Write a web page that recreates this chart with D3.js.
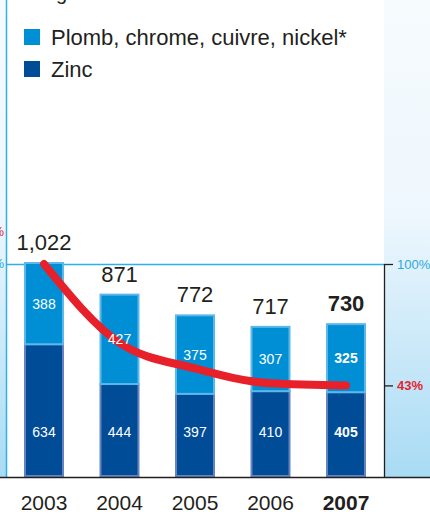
<!DOCTYPE html>
<html><head><meta charset="utf-8">
<script src="https://cdn.jsdelivr.net/npm/d3@7"></script>
<style>html,body{margin:0;padding:0;background:#fff;}svg{display:block;font-family:"Liberation Sans",Arial,sans-serif;}</style>
</head><body><svg id="c" width="430" height="514"></svg>
<script>
const years = ["2003","2004","2005","2006","2007"];
const zinc = [634, 444, 397, 410, 405];
const plomb = [388, 427, 375, 307, 325];
const totals = ["1,022","871","772","717","730"];
const trendPct = [100, 63, 51, 44, 43];
const rightTicks = [100, 43];
const rightTickLabels = ["100%", "43%"];
const legendLabels = ["Plomb, chrome, cuivre, nickel*", "Zinc"];

const svg = d3.select("#c");
const defs = svg.append("defs");
const g = defs.append("linearGradient").attr("id","pg").attr("x1",0).attr("y1",0).attr("x2",0).attr("y2",1);
g.append("stop").attr("offset","0%").attr("stop-color","#f6fbfe");
g.append("stop").attr("offset","45%").attr("stop-color","#eef7fd");
g.append("stop").attr("offset","100%").attr("stop-color","#a8dbf4");

const base = 477;
const x = d3.scalePoint().domain(years).range([6.25, 383.75]).padding(0.5);
const y = d3.scaleLinear().domain([0, 1022]).range([base, 263]);
const yp = d3.scaleLinear().domain([0, 100]).range([base, 264]);
const bw = 40;

// panels
svg.append("rect").attr("x",0).attr("y",0).attr("width",6).attr("height",base).attr("fill","url(#pg)");
svg.append("rect").attr("x",384).attr("y",0).attr("width",46).attr("height",base).attr("fill","url(#pg)");
svg.append("line").attr("x1",6.5).attr("x2",6.5).attr("y1",0).attr("y2",base).attr("stroke","#2eb0ea").attr("stroke-width",1.5);

// left cut labels
svg.append("text").attr("x",4).attr("y",236).attr("text-anchor","end").attr("font-size",13).attr("fill","#e32530").text("%");
svg.append("text").attr("x",4).attr("y",268).attr("text-anchor","end").attr("font-size",13).attr("fill","#2aa9e0").text("%");

// top cut text
svg.append("text").attr("x",56).attr("y",0).attr("font-size",20).attr("fill","#231f20").text("g");

// 100% line
svg.append("line").attr("x1",7).attr("x2",384).attr("y1",yp(100)+0.5).attr("y2",yp(100)+0.5).attr("stroke","#2eb0ea").attr("stroke-width",1.5);

// bars
const bars = svg.append("g");
years.forEach((yr,i)=>{
  const cx = x(yr);
  bars.append("rect").attr("x",cx-bw/2+1).attr("y",y(zinc[i])).attr("width",bw-2).attr("height",base-y(zinc[i])-1)
    .attr("fill","#004c97").attr("stroke","#6584bf").attr("stroke-width",2);
  bars.append("rect").attr("x",cx-bw/2+1).attr("y",y(zinc[i]+plomb[i])).attr("width",bw-2).attr("height",y(zinc[i])-y(zinc[i]+plomb[i]))
    .attr("fill","#008fd5").attr("stroke","#5cb7ea").attr("stroke-width",2);
});

// red trend line
const line = d3.line().x((d,i)=>x(years[i])).y(d=>yp(d)).curve(d3.curveMonotoneX);
svg.append("path").attr("d",line(trendPct)).attr("fill","none").attr("stroke","#e8202a").attr("stroke-width",8).attr("stroke-linecap","round").attr("stroke-linejoin","round");

// segment labels
years.forEach((yr,i)=>{
  const cx = x(yr);
  const bold = i===4 ? "bold" : "normal";
  svg.append("text").attr("x",cx).attr("y",(y(zinc[i])+y(zinc[i]+plomb[i]))/2+5).attr("text-anchor","middle")
    .attr("font-size",14).attr("font-weight",bold).attr("fill","#fff").text(plomb[i]);
  svg.append("text").attr("x",cx).attr("y",437).attr("text-anchor","middle")
    .attr("font-size",14).attr("font-weight",bold).attr("fill","#fff").text(zinc[i]);
  svg.append("text").attr("x",cx).attr("y",y(zinc[i]+plomb[i])-13).attr("text-anchor","middle")
    .attr("font-size",22).attr("font-weight",bold).attr("fill","#231f20").text(totals[i]);
  svg.append("text").attr("x",cx).attr("y",510).attr("text-anchor","middle")
    .attr("font-size",21).attr("font-weight",bold).attr("fill","#231f20").text(yr);
});

// right axis
svg.append("line").attr("x1",384.5).attr("x2",384.5).attr("y1",yp(100)).attr("y2",base).attr("stroke","#231f20").attr("stroke-width",1.3);
rightTicks.forEach((t,i)=>{
  svg.append("line").attr("x1",384).attr("x2",393).attr("y1",yp(t)+0.5).attr("y2",yp(t)+0.5).attr("stroke","#231f20").attr("stroke-width",1.3);
  svg.append("text").attr("x",397).attr("y",yp(t)+5).attr("font-size",13)
    .attr("font-weight", i===1?"bold":"normal").attr("fill", i===1?"#e32530":"#2aa9e0").text(rightTickLabels[i]);
});

// baseline
svg.append("line").attr("x1",0).attr("x2",430).attr("y1",base+0.5).attr("y2",base+0.5).attr("stroke","#231f20").attr("stroke-width",1.3);

// legend
const legColors = ["#008fd5","#004c97"];
legendLabels.forEach((l,i)=>{
  svg.append("rect").attr("x",24).attr("y",29+i*32).attr("width",16).attr("height",16).attr("fill",legColors[i]);
  svg.append("text").attr("x",51).attr("y",45+i*32).attr("font-size",22).attr("fill","#231f20").text(l);
});
</script></body></html>
